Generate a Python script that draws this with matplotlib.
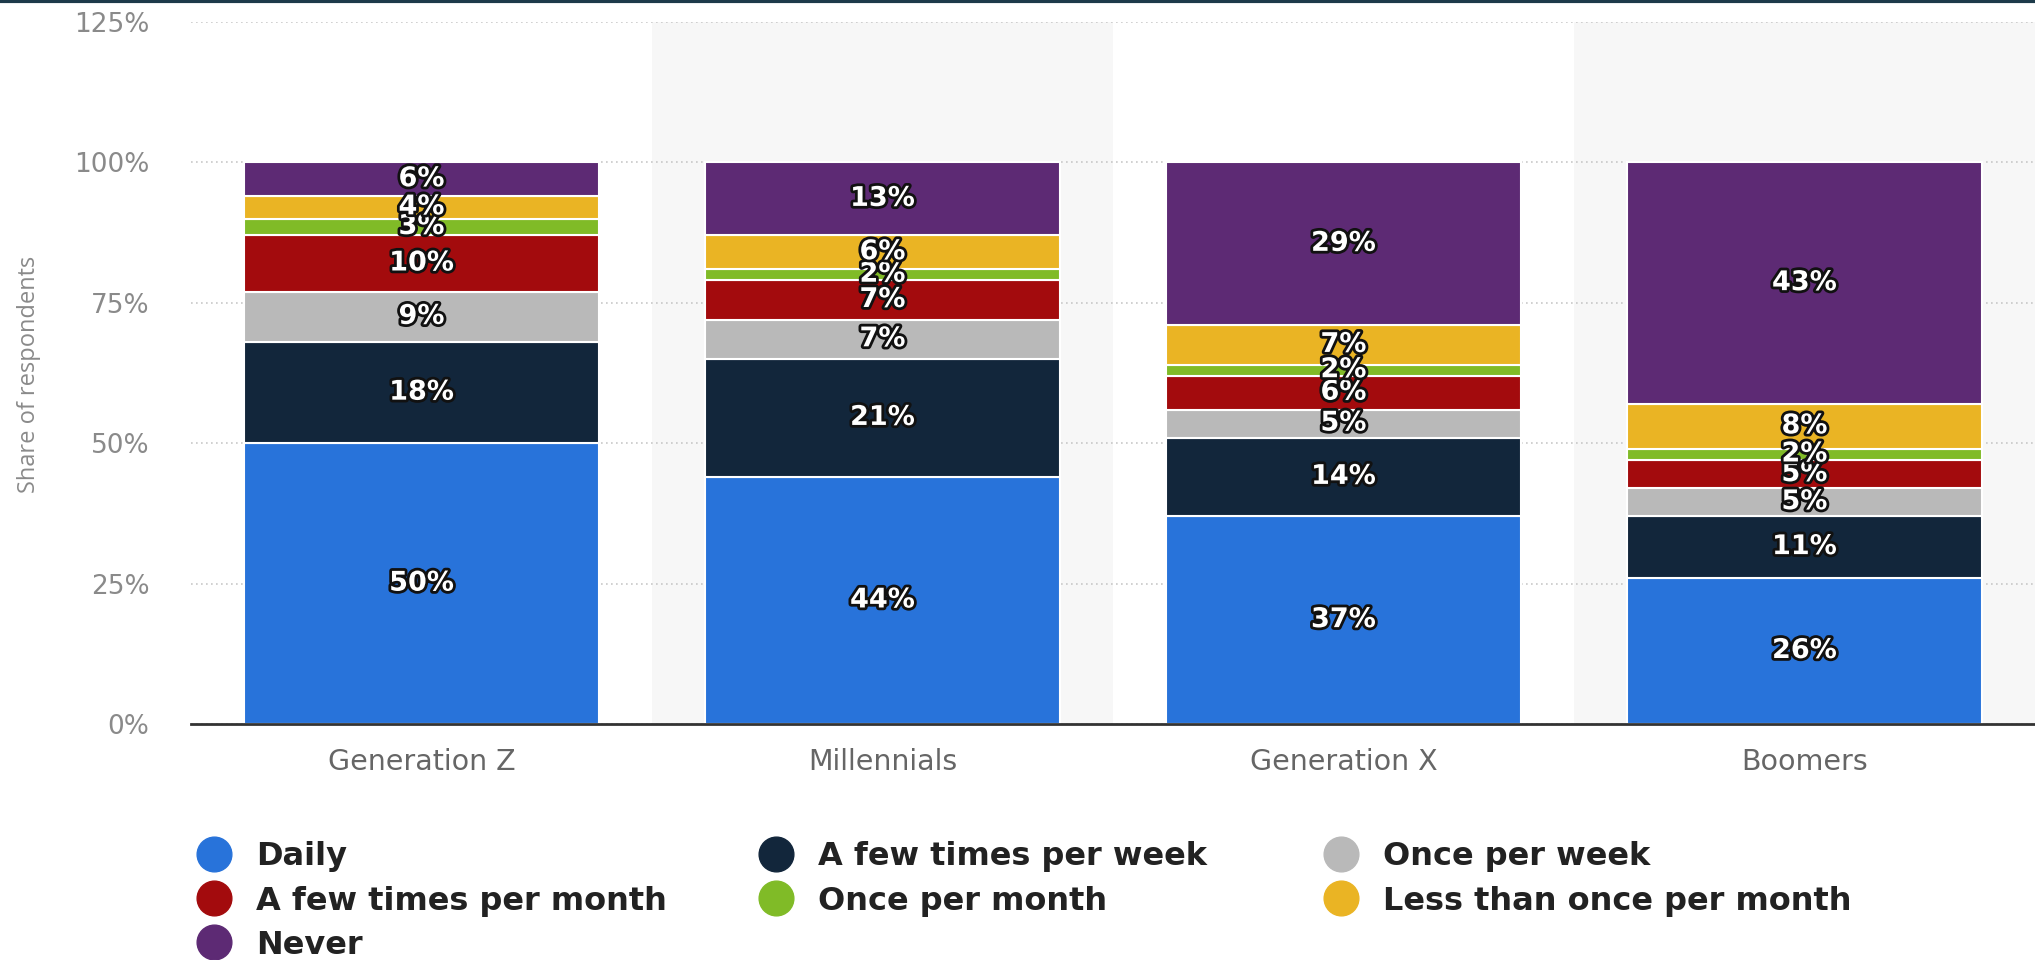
import matplotlib
matplotlib.use("Agg")
import matplotlib.pyplot as plt
import matplotlib.patheffects as pe
import numpy as np

# survey data (share of respondents, %)
generations = ["Generation Z", "Millennials", "Generation X", "Boomers"]
frequencies = ["Daily", "A few times per week", "Once per week", "A few times per month",
               "Once per month", "Less than once per month", "Never"]
daily = [50, 44, 37, 26]
few_week = [18, 21, 14, 11]
once_week = [9, 7, 5, 5]
few_month = [10, 7, 6, 5]
once_month = [3, 2, 2, 2]
less_month = [4, 6, 7, 8]
never = [6, 13, 29, 43]
colors = ["#2873da", "#12263b", "#b9b9b9", "#a30b0d", "#80bb27", "#eab424", "#5d2a74"]

series = [daily, few_week, once_week, few_month, once_month, less_month, never]

fig = plt.figure(figsize=(20.35, 9.6), dpi=100)
ax = fig.add_axes([0.0939, 0.2458, 0.9061, 0.7313])

x = np.arange(len(generations))
# alternating shaded background columns
for i in x[1::2]:
    ax.axvspan(i - 0.5, i + 0.5, color="#f7f7f7", zorder=0, lw=0)

bottom = np.zeros(len(generations))
for vals, name, col in zip(series, frequencies, colors):
    vals = np.array(vals, dtype=float)
    ax.bar(x, vals, bottom=bottom, width=0.77, color=col, edgecolor="white",
           linewidth=1.5, zorder=3, label=name)
    for xi, b, v in zip(x, bottom, vals):
        ax.text(xi, b + v / 2, f"{v:.0f}%", ha="center", va="center", color="white",
                fontsize=19.5, fontweight="bold", zorder=5,
                path_effects=[pe.withStroke(linewidth=4, foreground="#111111")])
    bottom += vals

ax.set_xlim(-0.5, 3.5)
ax.set_ylim(0, 125)
ax.set_yticks([0, 25, 50, 75, 100, 125])
ax.set_yticklabels([f"{t}%" for t in [0, 25, 50, 75, 100, 125]])
ax.set_xticks(x)
ax.set_xticklabels(generations)
ax.tick_params(axis="y", length=0, pad=30, labelsize=19, labelcolor="#8a8a8a")
ax.tick_params(axis="x", length=0, pad=17, labelsize=20.5, labelcolor="#666666")

ax.grid(axis="y", color="#c8c8c8", linestyle=(0, (1, 2)), linewidth=1.2, zorder=1)
ax.set_axisbelow(True)
for s in ["top", "right", "left"]:
    ax.spines[s].set_visible(False)
ax.spines["bottom"].set_color("#333333")
ax.spines["bottom"].set_linewidth(2)
ax.spines["bottom"].set_zorder(4)

fig.text(29 / 2035, 0.61, "Share of respondents", rotation=90, ha="center", va="center",
         fontsize=17, color="#8a8a8a", family="Open Sans")

# legend: three columns at fixed positions, filled row by row
columns = [[0, 3, 6], [1, 4], [2, 5]]
col_x = [0.0958, 0.372, 0.6496]
for idx, cx in zip(columns, col_x):
    hs = [plt.Line2D([], [], marker="o", linestyle="", markersize=25,
                     markerfacecolor=colors[i], markeredgecolor=colors[i]) for i in idx]
    fig.legend(hs, [frequencies[i] for i in idx], loc="upper left",
               bbox_to_anchor=(cx, 0.1235), frameon=False, handletextpad=0.7,
               handlelength=1.2, labelspacing=0.41, prop={"size": 23, "weight": "bold"},
               labelcolor="#222222", borderpad=0, borderaxespad=0)

# thin dark strip along the top edge
fig.add_artist(plt.Line2D([0, 1], [0.999, 0.999], color="#1d3a4a", lw=3, transform=fig.transFigure))

fig.savefig("out.png", dpi=100)
